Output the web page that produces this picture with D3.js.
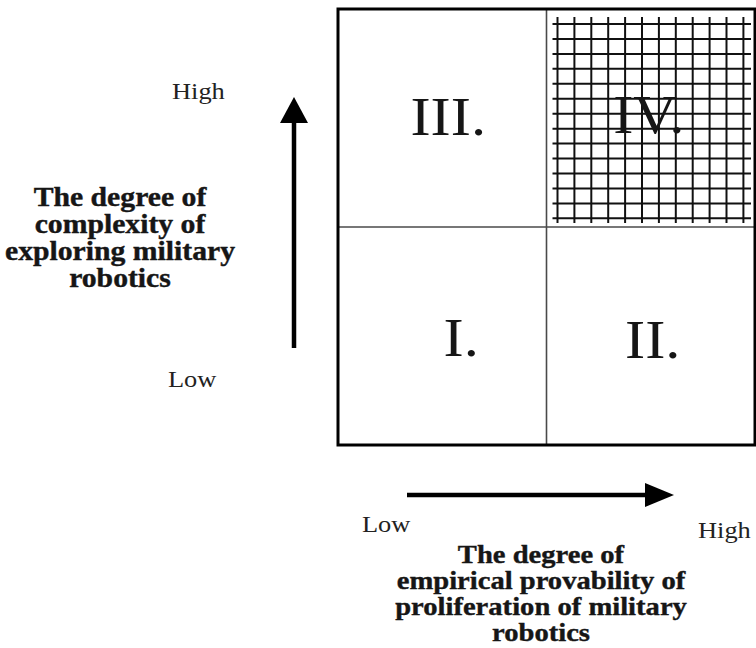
<!DOCTYPE html>
<html>
  <head>
    <meta charset="UTF-8" />
    <script src="https://d3js.org/d3.v7.min.js"></script>
    <style>
      body { margin: 0; background: #fff; }
      svg { display: block; }
    </style>
  </head>
  <body>
    <div id="my_dataviz"></div>

    <script>
      // levels of both axes
      var xLevels = ["Low", "High"];
      var yLevels = ["High", "Low"];

      // quadrants: label, x level, y level, hatched or not
      var quadLabels = ["I.", "II.", "III.", "IV."];
      var quadX = ["Low", "High", "Low", "High"];
      var quadY = ["Low", "Low", "High", "High"];
      var quadHatched = [false, false, false, true];

      var yTitle = ["The degree of", "complexity of", "exploring military", "robotics"];
      var xTitle = ["The degree of", "empirical provability of", "proliferation of military", "robotics"];

      var width = 756,
        height = 648;

      var serif = "'Liberation Serif', 'Times New Roman', serif";
      var ink = "#161616";
      var stretch = 1.1; // the source figure is a bit wide

      var svg = d3
        .select("#my_dataviz")
        .append("svg")
        .attr("width", width)
        .attr("height", height);

      var x = d3.scaleBand().domain(xLevels).range([338, 755]);
      var y = d3.scaleBand().domain(yLevels).range([9, 445]);

      var quads = quadLabels.map(function (l, i) {
        return { label: l, x: quadX[i], y: quadY[i], hatched: quadHatched[i] };
      });

      // hatching for the high / high cell
      var hatch = svg.append("g").attr("stroke", "#111").attr("stroke-width", 2);
      quads.filter(function (d) { return d.hatched; }).forEach(function (d) {
        var x0 = x(d.x), y0 = y(d.y), bw = x.bandwidth(), bh = y.bandwidth();
        var vx = d3.range(12).map(function (i) { return x0 + 11 + i * 16.9; });
        var hy = d3.range(14).map(function (i) { return y0 + 15 + i * 14.95; });
        hatch.selectAll(null).data(vx).enter().append("line")
          .attr("x1", function (v) { return v; }).attr("x2", function (v) { return v; })
          .attr("y1", y0 + 8).attr("y2", y0 + bh - 4);
        hatch.selectAll(null).data(hy).enter().append("line")
          .attr("x1", x0 + 6).attr("x2", x0 + bw - 4)
          .attr("y1", function (v) { return v; }).attr("y2", function (v) { return v; });
      });

      // dividers
      svg.append("line")
        .attr("x1", x("High")).attr("x2", x("High"))
        .attr("y1", y.range()[0]).attr("y2", y.range()[1])
        .attr("stroke", "#4a4a4a").attr("stroke-width", 1.6);
      svg.append("line")
        .attr("x1", x.range()[0]).attr("x2", x.range()[1])
        .attr("y1", y("Low")).attr("y2", y("Low"))
        .attr("stroke", "#4a4a4a").attr("stroke-width", 1.6);

      // outer frame
      svg.append("rect")
        .attr("x", x.range()[0]).attr("y", y.range()[0])
        .attr("width", x.range()[1] - x.range()[0])
        .attr("height", y.range()[1] - y.range()[0])
        .attr("fill", "none").attr("stroke", "#000").attr("stroke-width", 3);

      function at(px, py) {
        return "translate(" + px + "," + py + ") scale(" + stretch + ",1)";
      }

      // quadrant numerals
      var nudgeX = { "I.": 19, "II.": 2, "III.": 6, "IV.": -2 };
      var nudgeY = { "I.": 20, "II.": 22, "III.": 17, "IV.": 15 };
      svg.append("g").selectAll("text").data(quads).enter().append("text")
        .attr("transform", function (d) {
          return at(x(d.x) + x.bandwidth() / 2 + nudgeX[d.label],
                    y(d.y) + y.bandwidth() / 2 + nudgeY[d.label]);
        })
        .attr("text-anchor", "middle")
        .attr("font-family", serif)
        .attr("font-size", 55)
        .attr("fill", ink)
        .text(function (d) { return d.label; });

      // arrows
      var vx = 294;
      svg.append("line").attr("x1", vx).attr("x2", vx).attr("y1", 348).attr("y2", 118)
        .attr("stroke", "#000").attr("stroke-width", 4.5);
      svg.append("path")
        .attr("d", d3.line()([[vx - 14, 123], [vx, 97], [vx + 14, 123]]) + "Z")
        .attr("fill", "#000");

      var hy = 495;
      svg.append("line").attr("x1", 407).attr("x2", 650).attr("y1", hy).attr("y2", hy)
        .attr("stroke", "#000").attr("stroke-width", 4.5);
      svg.append("path")
        .attr("d", d3.line()([[645, hy - 12], [674, hy], [645, hy + 12]]) + "Z")
        .attr("fill", "#000");

      // end labels
      function label(txt, lx, ly) {
        svg.append("text").attr("transform", at(lx, ly))
          .attr("font-family", serif).attr("font-size", 24)
          .attr("fill", "#222").text(txt);
      }
      label(yLevels[0], 172, 99);
      label(yLevels[1], 168, 387);
      label(xLevels[0], 362, 532);
      label(xLevels[1], 698, 538);

      // axis titles
      function title(lines, cx, y0, size, step) {
        svg.append("text")
          .attr("transform", at(cx, y0))
          .attr("font-family", serif).attr("font-weight", "bold")
          .attr("font-size", size).attr("fill", ink)
          .attr("stroke", ink).attr("stroke-width", 0.4)
          .attr("text-anchor", "middle")
          .selectAll("tspan").data(lines).enter().append("tspan")
          .attr("x", 0)
          .attr("y", function (d, i) { return i * step; })
          .text(function (d) { return d; });
      }
      title(yTitle, 120, 206, 27, 27);
      title(xTitle, 541, 563, 26, 26);
    </script>
  </body>
</html>
